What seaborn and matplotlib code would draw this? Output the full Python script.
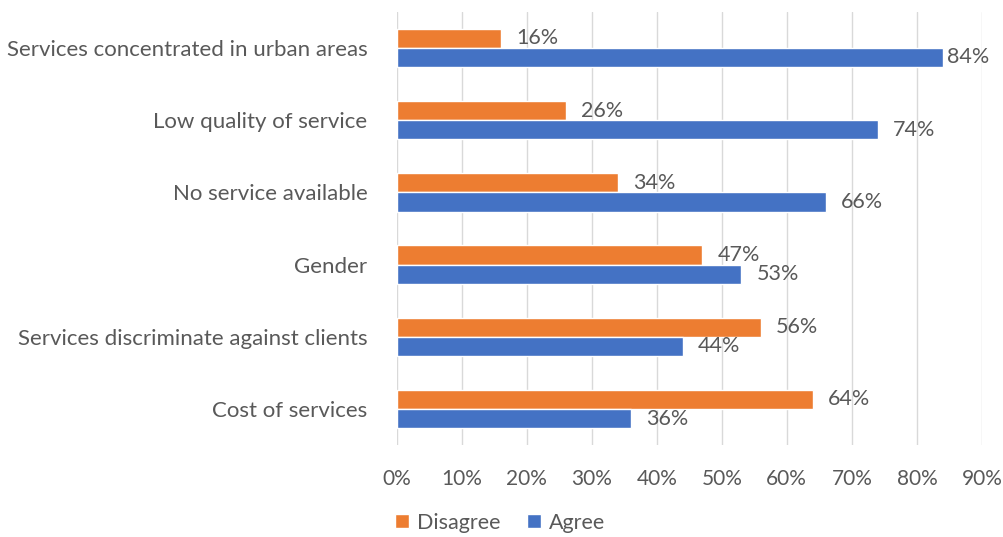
import matplotlib
matplotlib.use("Agg")
import matplotlib.pyplot as plt
import seaborn as sns
import pandas as pd
from matplotlib.ticker import PercentFormatter
from matplotlib.patches import Patch

# Data
categories = [
    "Services concentrated in urban areas",
    "Low quality of service",
    "No service available",
    "Gender",
    "Services discriminate against clients",
    "Cost of services",
]
disagree = [0.16, 0.26, 0.34, 0.47, 0.56, 0.64]
agree = [0.84, 0.74, 0.66, 0.53, 0.44, 0.36]
series = ["Disagree", "Agree"]
colors = {"Disagree": "#ED7D31", "Agree": "#4472C4"}

df = pd.DataFrame({
    "category": categories * 2,
    "value": disagree + agree,
    "series": ["Disagree"] * len(categories) + ["Agree"] * len(categories),
})

sns.set_style("white")
plt.rcParams["font.family"] = ["Lato", "DejaVu Sans"]
text_color = "#595959"

fig = plt.figure(figsize=(10.04, 5.37), dpi=100)
ax = fig.add_axes([0.395, 0.171, 0.583, 0.807])

sns.barplot(data=df, x="value", y="category", hue="series", order=categories,
            hue_order=series, palette=colors, orient="h", width=0.53,
            saturation=1, legend=False, ax=ax)

# value labels; Excel squeezes the ones near the right edge closer to the bar
for cont in ax.containers:
    for bar, v in zip(cont, cont.datavalues):
        pad = 3 if v >= 0.8 else 11
        ax.annotate(f"{v * 100:.0f}%", (bar.get_width(), bar.get_y() + bar.get_height() / 2),
                    xytext=(pad, 0), textcoords="offset points", va="center", ha="left",
                    fontsize=15.5, color=text_color)

ax.set_xlim(0, 0.9)
ax.set_xticks([i / 10 for i in range(10)])
ax.xaxis.set_major_formatter(PercentFormatter(1.0, decimals=0))
ax.grid(axis="x", color="#D9D9D9", linewidth=1)
ax.set_axisbelow(True)
for s in ax.spines.values():
    s.set_visible(False)
ax.set_xlabel("")
ax.set_ylabel("")
ax.tick_params(axis="x", labelsize=15, colors=text_color, length=0, pad=17)
ax.tick_params(axis="y", labelsize=16, colors=text_color, length=0, pad=21)

handles = [Patch(facecolor=colors[s], label=s) for s in series]
fig.legend(handles=handles, loc="center", bbox_to_anchor=(0.498, 0.027), ncol=2,
           frameon=False, fontsize=15.5, labelcolor=text_color, handlelength=0.65,
           handleheight=0.65, handletextpad=0.4, columnspacing=1.2)

fig.savefig("out.png", dpi=100)
